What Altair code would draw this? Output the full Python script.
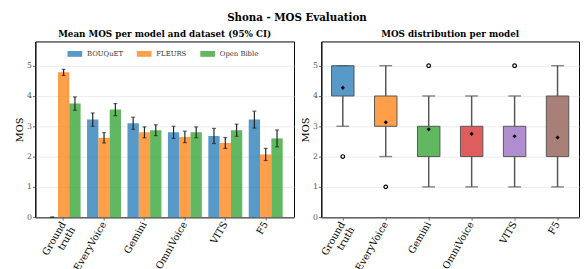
import altair as alt
import pandas as pd

models = ["Ground truth", "EveryVoice", "Gemini", "OmniVoice", "VITS", "F5"]
datasets = ["BOUQuET", "FLEURS", "Open Bible"]
dataset_colors = ["#1f77b4", "#ff7f0e", "#2ca02c"]
model_colors = ["#1f77b4", "#ff7f0e", "#2ca02c", "#d62728", "#9467bd", "#8c564b"]

bouquet_mean = [0.0, 3.22, 3.10, 2.80, 2.68, 3.22]
bouquet_ci = [0.0, 0.22, 0.20, 0.20, 0.25, 0.28]
fleurs_mean = [4.78, 2.62, 2.80, 2.65, 2.45, 2.07]
fleurs_ci = [0.10, 0.17, 0.18, 0.19, 0.18, 0.20]
bible_mean = [3.75, 3.55, 2.87, 2.80, 2.87, 2.60]
bible_ci = [0.22, 0.20, 0.18, 0.18, 0.20, 0.28]

box_q1 = [4, 3, 2, 2, 2, 2]
box_q3 = [5, 4, 3, 3, 3, 4]
whisker_low = [3, 2, 1, 1, 1, 1]
whisker_high = [5, 5, 4, 4, 4, 5]
box_mean = [4.27, 3.13, 2.90, 2.75, 2.67, 2.63]
outlier_model = ["Ground truth", "EveryVoice", "Gemini", "VITS"]
outlier_value = [2, 1, 5, 5]

FONT = "DejaVu Serif"

rows = []
for ds, means, cis in zip(datasets, [bouquet_mean, fleurs_mean, bible_mean],
                          [bouquet_ci, fleurs_ci, bible_ci]):
    for m, v, c in zip(models, means, cis):
        rows.append({"model": m, "dataset": ds, "mean": v, "lo": v - c, "hi": v + c})
bar_df = pd.DataFrame(rows)

box_df = pd.DataFrame({
    "model": models, "q1": box_q1, "q3": box_q3,
    "wlo": whisker_low, "whi": whisker_high, "mean": box_mean,
})
out_df = pd.DataFrame({"model": outlier_model, "value": outlier_value})

label_expr = "datum.label == 'Ground truth' ? ['Ground', 'truth'] : datum.label"
x_axis = alt.Axis(title=None, labelAngle=300, labelAlign="right", labelBaseline="middle",
                  labelExpr=label_expr, labelFontSize=10, labelColor="black",
                  labelPadding=2, tickSize=3, tickColor="#666",
                  domainColor="#666", domainWidth=1.5, grid=False, labelLineHeight=11)
y_axis = alt.Axis(title="MOS", values=[0, 1, 2, 3, 4, 5], tickCount=6, grid=True,
                  gridColor="#e6e6e6", gridWidth=0.8, labelFontSize=8, labelColor="#555",
                  tickSize=3, tickColor="#666", labelPadding=1, domainColor="black",
                  domainWidth=1, titleFontSize=10, titleFontWeight="normal",
                  titlePadding=2, minExtent=9, maxExtent=9)
y_scale = alt.Scale(domain=[0, 5.8], nice=False, zero=True)


def Y(field):
    return alt.Y(field, scale=y_scale, axis=y_axis)


# Left panel
xl = alt.X("model:N", sort=models,
           scale=alt.Scale(paddingInner=0.16, paddingOuter=0.28), axis=x_axis)
xo = alt.XOffset("dataset:N", sort=datasets, scale=alt.Scale(paddingInner=0, paddingOuter=0))
base_l = alt.Chart(bar_df)
bars = base_l.mark_bar(opacity=0.75).encode(
    x=xl, xOffset=xo,
    y=Y("mean:Q"),
    color=alt.Color("dataset:N", scale=alt.Scale(domain=datasets, range=dataset_colors),
                    legend=alt.Legend(title=None, orient="none", legendX=33, legendY=5,
                                      direction="horizontal",
                                      symbolType="M-1,-0.4H1V0.4H-1Z", symbolSize=225,
                                      symbolOpacity=0.75, symbolStrokeWidth=0,
                                      labelFontSize=7, labelFont=FONT, labelColor="#333",
                                      labelOffset=5, columnPadding=14, padding=0)),
)
err = base_l.mark_rule(color="#222", strokeWidth=1.2).encode(
    x=xl, xOffset=xo, y=Y("lo:Q"), y2="hi:Q")
cap_lo = base_l.mark_tick(color="#222", size=4, thickness=1.2).encode(
    x=xl, xOffset=xo, y=Y("lo:Q"))
cap_hi = base_l.mark_tick(color="#222", size=4, thickness=1.2).encode(
    x=xl, xOffset=xo, y=Y("hi:Q"))
left = alt.layer(bars, err, cap_lo, cap_hi).properties(
    width=265, height=180,
    title=alt.TitleParams("Mean MOS per model and dataset (95% CI)", fontSize=9,
                          font=FONT, fontWeight="bold", offset=3))

# Right panel
xr = alt.X("model:N", sort=models, scale=alt.Scale(paddingInner=0, paddingOuter=0), axis=x_axis)
base_r = alt.Chart(box_df)
wl = base_r.mark_rule(color="#555", strokeWidth=1.5).encode(x=xr, y=Y("q1:Q"), y2="wlo:Q")
wh = base_r.mark_rule(color="#555", strokeWidth=1.5).encode(x=xr, y=Y("q3:Q"), y2="whi:Q")
cl = base_r.mark_tick(color="#555", size=13, thickness=1.5).encode(x=xr, y=Y("wlo:Q"))
ch = base_r.mark_tick(color="#555", size=13, thickness=1.5).encode(x=xr, y=Y("whi:Q"))
box = base_r.mark_bar(size=23, fillOpacity=0.75, stroke="#555", strokeWidth=1).encode(
    x=xr, y=Y("q1:Q"), y2="q3:Q",
    color=alt.Color("model:N", scale=alt.Scale(domain=models, range=model_colors), legend=None))
mean_pt = base_r.mark_point(shape="diamond", filled=True, color="black", size=18, opacity=1).encode(
    x=xr, y=Y("mean:Q"))
outl = alt.Chart(out_df).mark_point(shape="circle", filled=False, color="black",
                                    strokeWidth=1.2, size=14, opacity=1).encode(
    x=xr, y=Y("value:Q"))
right = alt.layer(wl, wh, cl, ch, box, mean_pt, outl).properties(
    width=264, height=180,
    title=alt.TitleParams("MOS distribution per model", fontSize=9,
                          font=FONT, fontWeight="bold", offset=3))

chart = alt.hconcat(left, right, spacing=5).resolve_scale(
    color="independent", x="independent").resolve_legend(color="independent").properties(
    padding={"left": 6, "top": 2, "right": 0, "bottom": 0},
    title=alt.TitleParams("Shona - MOS Evaluation", fontSize=10.5, font=FONT,
                          fontWeight="bold", anchor="middle", offset=6),
).configure(font=FONT).configure_view(stroke="black", strokeWidth=1).configure_axis(
    labelFont=FONT, titleFont=FONT)

chart.save("out.html", embed_options={"renderer": "svg", "actions": False})
